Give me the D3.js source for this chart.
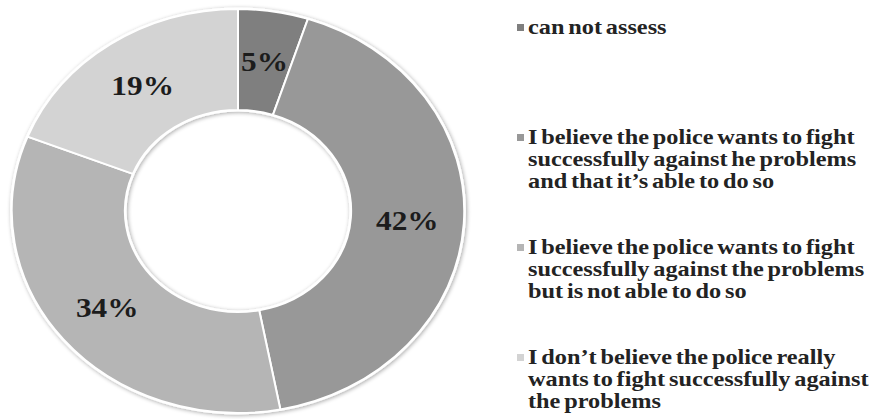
<!DOCTYPE html>
<html>
<head>
<meta charset="utf-8">
<script src="https://cdn.jsdelivr.net/npm/d3@7"></script>
<style>
  html, body { margin: 0; padding: 0; background: #ffffff; }
  svg { display: block; }
</style>
</head>
<body>
<svg id="chart" width="877" height="419"></svg>
<script>
// Survey answers: share of respondents (%)
const categories = [
  "can not assess",
  "I believe the police wants to fight successfully against he problems and that it’s able to do so",
  "I believe the police wants to fight successfully against the problems but is not able to do so",
  "I don’t believe the police really wants to fight successfully against the problems"
];
const values = [5, 42, 34, 19];
const valueLabels = ["5%", "42%", "34%", "19%"];
// Legend entries as wrapped lines
const legendLines = [
  ["can not assess"],
  ["I believe the police wants to fight", "successfully against he problems", "and that it’s able to do so"],
  ["I believe the police wants to fight", "successfully against the problems", "but is not able to do so"],
  ["I don’t believe the police really", "wants to fight successfully against", "the problems"]
];
const colors = ["#7f7f7f", "#989898", "#b5b5b5", "#d3d3d3"];

const svg = d3.select("#chart");

// Donut geometry (drawn slightly wider than tall)
const cx = 238, cy = 211;
const outerR = 202, innerR = 101;
const sx = 1.12;
const serif = "'Liberation Serif', 'Times New Roman', serif";

const defs = svg.append("defs");
const shadow = defs.append("filter").attr("id", "ringShadow")
  .attr("x", "-10%").attr("y", "-10%").attr("width", "120%").attr("height", "120%");
shadow.append("feGaussianBlur").attr("in", "SourceAlpha").attr("stdDeviation", 2).attr("result", "blur");
shadow.append("feOffset").attr("in", "blur").attr("dx", 1).attr("dy", 1).attr("result", "off");
shadow.append("feComponentTransfer").attr("in", "off").attr("result", "soft")
  .append("feFuncA").attr("type", "linear").attr("slope", 0.35);
const merge = shadow.append("feMerge");
merge.append("feMergeNode").attr("in", "soft");
merge.append("feMergeNode").attr("in", "SourceGraphic");

const pie = d3.pie().sort(null).value(d => d);
const arcs = pie(values);
const arc = d3.arc().innerRadius(innerR).outerRadius(outerR);

const ring = svg.append("g")
  .attr("transform", `translate(${cx},${cy}) scale(${sx},1)`);

// white rim under the slices
ring.append("g").attr("filter", "url(#ringShadow)")
  .append("path")
  .attr("d", d3.arc().innerRadius(innerR - 1.5).outerRadius(outerR + 1.5)({startAngle: 0, endAngle: 2 * Math.PI}))
  .attr("fill", "#ffffff");

ring.selectAll("path.slice")
  .data(arcs)
  .join("path")
  .attr("class", "slice")
  .attr("d", arc)
  .attr("fill", (d, i) => colors[i])
  .attr("stroke", "#ffffff")
  .attr("stroke-width", 2)
  .attr("vector-effect", "non-scaling-stroke");

// percentage labels at slice centroids
svg.append("g").selectAll("text")
  .data(arcs)
  .join("text")
  .attr("transform", d => {
    const [x, y] = arc.centroid(d);
    return `translate(${cx + x * sx},${cy + y}) scale(${sx},1)`;
  })
  .attr("text-anchor", "middle")
  .attr("dy", "0.35em")
  .attr("font-family", serif)
  .attr("font-weight", "bold")
  .attr("font-size", 28)
  .attr("fill", "#1c1c1c")
  .text((d, i) => valueLabels[i]);

// legend
const legendX = 528, legendTop = 28, itemStep = 110, lineH = 22;
const legend = svg.append("g");
legendLines.forEach((lines, i) => {
  const y0 = legendTop + i * itemStep;
  legend.append("rect")
    .attr("x", legendX - 11).attr("y", y0 - 4)
    .attr("width", 7).attr("height", 7)
    .attr("fill", colors[i]);
  const t = legend.append("text")
    .attr("transform", `translate(${legendX},${y0 + 6}) scale(1.13,1)`)
    .attr("font-family", serif)
    .attr("font-weight", "bold")
    .attr("font-size", 21.5)
    .attr("word-spacing", -2)
    .attr("fill", "#232323");
  lines.forEach((ln, j) => {
    t.append("tspan").attr("x", 0).attr("y", j * lineH).text(ln);
  });
});
</script>
</body>
</html>
